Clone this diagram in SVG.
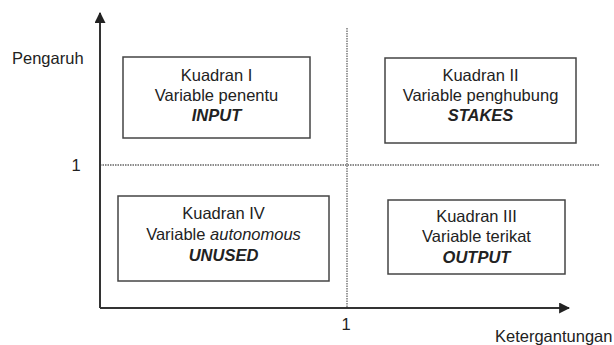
<svg xmlns="http://www.w3.org/2000/svg" width="614" height="345" viewBox="0 0 614 345">
<defs>
<marker id="ah" viewBox="0 0 10 10" refX="9" refY="5" markerWidth="11" markerHeight="11" markerUnits="userSpaceOnUse" orient="auto">
<path d="M0,0 L10,5 L0,10 z" fill="#222"/>
</marker>
<style>
text{font-family:"Liberation Sans",Arial,sans-serif;font-size:16.5px;fill:#222}
.box{fill:#fff;stroke:#444;stroke-width:1.5}
.axis{stroke:#333;stroke-width:2;fill:none}
.dot{stroke:#666;stroke-width:1.3;stroke-dasharray:1.5 1;fill:none}
.c{text-anchor:middle}
.bi{font-weight:bold;font-style:italic}
</style>
</defs>
<g id="connectors">
<line class="dot" x1="347" y1="28" x2="347" y2="308"/>
<line class="dot" x1="100" y1="165" x2="600" y2="165"/>
<line class="axis" x1="100" y1="308" x2="100" y2="13" marker-end="url(#ah)"/>
<line class="axis" x1="100" y1="308" x2="569" y2="308" marker-end="url(#ah)"/>
</g>
<g id="labels">
<text x="12" y="64">Pengaruh</text>
<text x="76" y="171" class="c">1</text>
<text x="346" y="330" class="c">1</text>
<text x="495" y="342">Ketergantungan</text>
</g>
<g id="k1">
<rect class="box" x="123" y="57" width="187" height="81"/>
<text x="216.5" y="81" class="c">Kuadran I</text>
<text x="216.5" y="101" class="c">Variable penentu</text>
<text x="216.5" y="121" class="c bi">INPUT</text>
</g>
<g id="k2">
<rect class="box" x="385" y="58" width="191" height="85"/>
<text x="480.5" y="81" class="c">Kuadran II</text>
<text x="480.5" y="101" class="c">Variable penghubung</text>
<text x="480.5" y="121" class="c bi">STAKES</text>
</g>
<g id="k4">
<rect class="box" x="118" y="196" width="211" height="85"/>
<text x="223.5" y="219" class="c">Kuadran IV</text>
<text x="223.5" y="240" class="c">Variable <tspan font-style="italic">autonomous</tspan></text>
<text x="223.5" y="261" class="c bi">UNUSED</text>
</g>
<g id="k3">
<rect class="box" x="388" y="200" width="177" height="74"/>
<text x="476.5" y="222" class="c">Kuadran III</text>
<text x="476.5" y="242" class="c">Variable terikat</text>
<text x="476.5" y="263" class="c bi">OUTPUT</text>
</g>
</svg>
